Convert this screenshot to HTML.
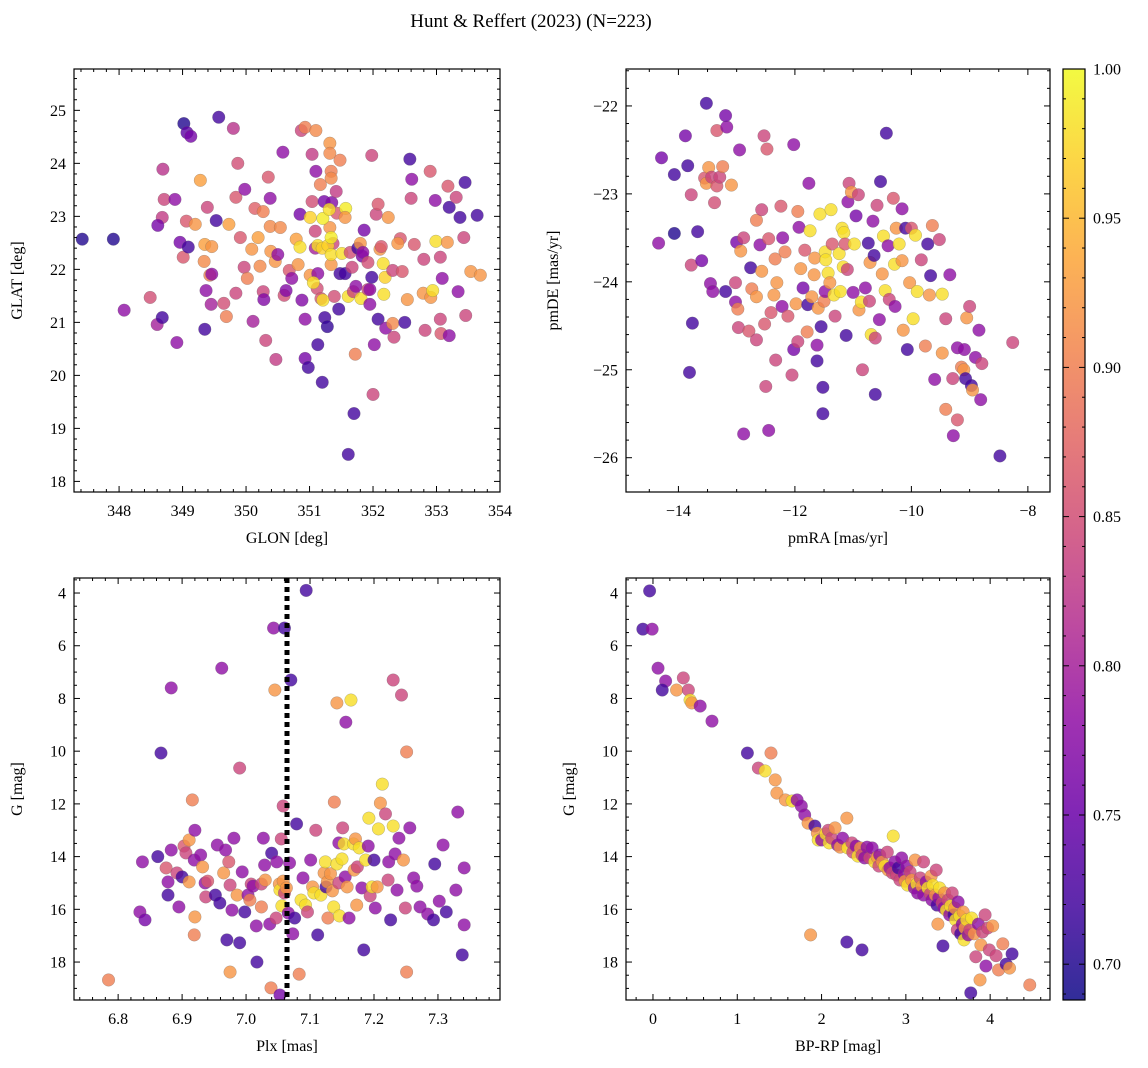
<!DOCTYPE html>
<html><head><meta charset="utf-8"><style>
html,body{margin:0;padding:0;background:#fff;}
svg{display:block;font-family:"Liberation Serif",serif;}
</style></head><body>
<svg id="fig" width="1148" height="1068" viewBox="0 0 1148 1068" xmlns="http://www.w3.org/2000/svg">
<text x="531" y="27" text-anchor="middle" font-size="19">Hunt &amp; Reffert (2023) (N=223)</text>
</svg>
<script>
// ---------- data ----------
const p1Lon=[347.42,347.91,348.08,348.6,348.68,348.49,348.69,348.71,348.68,348.61,348.88,348.91,348.96,349.01,349.06,349.02,349.07,349.13,349.09,349.2,349.28,349.34,349.39,349.35,349.46,349.37,349.35,349.43,349.45,349.46,349.53,349.57,349.65,349.69,349.73,349.8,349.84,349.84,349.87,349.91,349.97,349.98,350.02,350.09,350.11,350.14,350.19,350.22,350.27,350.27,350.28,350.31,350.35,350.38,350.38,350.39,350.46,350.5,350.47,350.54,350.6,350.63,350.58,350.68,350.72,350.79,350.82,350.85,350.87,350.93,350.88,350.93,350.93,350.98,351.01,351.04,351.04,351.09,351.09,351.1,351.13,351.1,351.12,351.13,351.17,351.23,351.18,351.24,351.28,351.2,351.32,351.32,351.32,351.34,351.34,351.34,351.35,351.42,351.43,351.37,351.39,351.46,351.48,351.48,350.85,351.01,351.06,351.13,351.2,351.21,351.21,351.29,351.31,351.34,351.34,351.51,351.57,351.56,351.56,351.61,351.67,351.64,351.72,351.69,351.76,351.73,351.83,351.8,351.81,351.84,351.86,351.92,351.92,351.98,351.95,351.95,351.98,352.05,352.02,352.0,352.08,352.08,352.11,352.13,352.17,352.16,352.19,352.2,352.24,352.31,352.31,352.33,352.43,352.39,352.46,352.54,352.5,352.58,352.61,352.6,352.65,352.8,352.9,352.79,352.82,352.91,352.94,352.99,353.06,352.98,353.09,353.06,353.07,353.17,353.18,353.2,353.31,353.37,353.43,353.46,353.54,353.64,353.69,353.45,351.7,351.61,353.2,353.34];
const p1Lat=[22.57,22.57,21.23,20.96,21.09,21.47,23.89,23.32,22.98,22.83,23.32,20.62,22.51,22.23,22.91,24.75,24.58,24.51,22.42,22.85,23.68,22.15,23.17,22.47,22.43,21.6,20.87,21.89,21.34,21.91,22.92,24.87,21.36,21.11,22.85,24.66,23.36,21.55,24.0,22.6,22.04,23.51,21.83,22.38,21.02,23.15,22.6,22.06,21.58,23.09,21.43,20.66,23.74,22.81,23.34,22.34,22.15,22.28,20.3,22.79,21.51,21.6,24.21,21.98,21.83,22.57,22.09,23.04,24.62,24.68,21.42,21.06,20.32,20.15,21.89,23.28,24.17,22.4,22.72,23.85,20.58,24.62,21.64,21.92,23.6,23.28,21.45,21.09,20.92,19.87,22.79,24.38,24.19,23.85,23.72,22.09,23.26,23.47,23.06,22.49,21.49,21.25,21.92,24.06,22.42,22.98,21.75,22.45,22.4,22.96,21.42,22.45,23.13,22.6,22.28,22.3,23.15,22.98,21.92,21.49,22.04,22.32,20.4,21.58,22.4,21.68,22.25,22.49,21.45,22.32,22.74,22.13,21.62,21.85,21.62,21.34,24.15,23.04,20.58,19.64,21.06,23.23,22.38,22.43,21.53,22.11,21.85,20.89,22.98,21.98,20.98,20.72,22.58,22.49,21.96,21.43,21.0,24.08,23.7,23.34,22.47,22.19,23.85,21.55,20.85,21.47,21.6,22.53,22.23,23.3,21.83,21.06,20.79,22.51,23.57,23.17,23.36,22.98,22.6,21.13,21.96,23.02,21.89,23.64,19.28,18.51,20.75,21.58];
const p1C=[0.70,0.70,0.78,0.80,0.72,0.85,0.82,0.84,0.83,0.76,0.78,0.78,0.76,0.86,0.86,0.70,0.74,0.76,0.72,0.92,0.93,0.91,0.84,0.93,0.92,0.78,0.72,0.90,0.80,0.78,0.72,0.72,0.85,0.90,0.93,0.82,0.86,0.84,0.85,0.86,0.84,0.78,0.90,0.92,0.80,0.87,0.93,0.91,0.84,0.90,0.77,0.84,0.86,0.91,0.78,0.92,0.92,0.78,0.83,0.91,0.85,0.77,0.78,0.86,0.78,0.93,0.92,0.76,0.84,0.90,0.77,0.78,0.76,0.72,0.92,0.85,0.83,0.80,0.84,0.78,0.72,0.91,0.85,0.78,0.90,0.76,0.86,0.72,0.71,0.72,0.92,0.92,0.91,0.90,0.91,0.92,0.77,0.83,0.86,0.84,0.85,0.72,0.72,0.90,0.98,0.97,0.98,0.98,0.97,0.99,0.98,0.97,0.98,0.99,0.98,0.98,0.99,0.92,0.72,0.98,0.84,0.85,0.90,0.84,0.72,0.78,0.76,0.92,0.98,0.78,0.76,0.85,0.84,0.72,0.78,0.78,0.84,0.84,0.78,0.84,0.72,0.86,0.92,0.86,0.98,0.98,0.97,0.78,0.92,0.84,0.91,0.84,0.86,0.92,0.86,0.92,0.72,0.72,0.78,0.84,0.86,0.84,0.86,0.92,0.84,0.92,0.98,0.98,0.84,0.78,0.78,0.84,0.86,0.92,0.86,0.72,0.84,0.72,0.84,0.84,0.92,0.72,0.92,0.72,0.72,0.72,0.78,0.78];

const p2Ra=[-14.29,-14.34,-14.07,-14.07,-13.88,-13.84,-13.78,-13.78,-13.76,-13.81,-13.67,-13.6,-13.52,-13.55,-13.52,-13.48,-13.45,-13.41,-13.43,-13.38,-13.34,-13.34,-13.29,-13.24,-13.17,-13.19,-13.19,-13.09,-13.0,-13.02,-13.02,-12.98,-12.97,-12.95,-12.93,-12.88,-12.88,-12.79,-12.76,-12.74,-12.66,-12.66,-12.66,-12.6,-12.57,-12.57,-12.53,-12.52,-12.5,-12.45,-12.48,-12.45,-12.41,-12.36,-12.34,-12.33,-12.31,-12.24,-12.21,-12.22,-12.17,-12.12,-12.05,-12.02,-12.02,-11.98,-11.95,-11.95,-11.93,-11.9,-11.86,-11.83,-11.79,-11.78,-11.76,-11.74,-11.71,-11.67,-11.66,-11.62,-11.62,-11.6,-11.57,-11.55,-11.52,-11.52,-11.5,-11.48,-11.48,-11.47,-11.43,-11.4,-11.38,-11.36,-11.33,-11.31,-11.24,-11.22,-11.19,-11.17,-11.16,-11.14,-11.12,-11.1,-11.09,-11.07,-11.03,-11.0,-10.98,-10.95,-10.91,-10.9,-10.86,-10.84,-10.79,-10.74,-10.72,-10.71,-10.69,-10.66,-10.62,-10.64,-10.62,-10.59,-10.55,-10.53,-10.5,-10.48,-10.45,-10.43,-10.4,-10.38,-10.31,-10.29,-10.26,-10.28,-10.21,-10.16,-10.16,-10.14,-10.1,-10.07,-10.03,-10.0,-9.97,-9.93,-9.9,-9.83,-9.76,-9.72,-9.69,-9.67,-9.64,-9.6,-9.52,-9.47,-9.47,-9.41,-9.41,-9.34,-9.29,-9.28,-9.21,-9.21,-9.14,-9.1,-9.09,-9.07,-9.05,-9.0,-8.97,-8.95,-8.9,-8.84,-8.81,-8.79,-8.48,-8.26];
const p2De=[-22.59,-23.56,-22.78,-23.45,-22.34,-22.68,-23.01,-23.81,-24.47,-25.03,-23.43,-23.76,-21.97,-22.82,-22.88,-22.7,-24.02,-24.11,-22.81,-23.1,-22.28,-22.91,-22.81,-22.69,-22.24,-22.11,-24.11,-22.9,-23.55,-24.01,-24.23,-24.31,-24.52,-22.5,-23.65,-23.5,-25.73,-24.56,-23.84,-24.08,-23.3,-24.17,-24.66,-23.58,-23.88,-23.18,-22.34,-24.48,-25.19,-25.69,-22.49,-23.51,-24.35,-24.15,-23.74,-24.89,-24.01,-23.14,-23.5,-24.28,-23.66,-24.39,-25.06,-22.44,-24.77,-24.25,-23.2,-24.68,-23.38,-23.85,-24.07,-23.64,-24.57,-24.26,-22.88,-23.42,-24.17,-23.92,-23.73,-24.72,-24.9,-24.3,-23.23,-24.51,-25.2,-25.5,-24.22,-24.11,-23.66,-23.75,-23.9,-24.01,-23.18,-23.57,-24.15,-24.39,-23.68,-24.11,-23.39,-23.83,-23.44,-23.57,-24.61,-23.86,-23.09,-22.88,-22.98,-24.12,-23.57,-23.25,-23.01,-24.32,-24.23,-25.0,-24.07,-23.56,-24.22,-23.78,-24.6,-23.31,-24.64,-23.7,-25.28,-23.13,-24.43,-22.86,-23.91,-23.48,-24.1,-22.31,-23.59,-24.2,-23.05,-23.8,-23.39,-24.28,-23.57,-23.17,-23.76,-24.55,-23.39,-24.77,-24.01,-23.39,-24.42,-23.47,-24.11,-23.75,-24.73,-23.57,-24.15,-23.93,-23.36,-25.11,-23.52,-24.81,-24.14,-24.42,-25.45,-23.92,-25.1,-25.75,-25.57,-24.75,-24.97,-25.0,-24.77,-25.1,-24.41,-24.28,-25.18,-25.23,-24.86,-24.55,-25.34,-24.93,-25.98,-24.69];
const p2C=[0.76,0.78,0.72,0.70,0.76,0.72,0.84,0.84,0.72,0.72,0.72,0.76,0.72,0.86,0.92,0.92,0.78,0.78,0.84,0.85,0.86,0.86,0.84,0.90,0.78,0.76,0.72,0.92,0.76,0.84,0.78,0.90,0.84,0.78,0.92,0.84,0.78,0.86,0.72,0.90,0.90,0.92,0.84,0.78,0.92,0.84,0.84,0.86,0.84,0.78,0.86,0.86,0.86,0.92,0.90,0.84,0.92,0.86,0.78,0.78,0.90,0.86,0.84,0.78,0.76,0.92,0.90,0.84,0.78,0.92,0.76,0.86,0.90,0.72,0.78,0.98,0.92,0.92,0.92,0.78,0.72,0.92,0.98,0.72,0.72,0.72,0.90,0.78,0.98,0.98,0.98,0.92,0.98,0.86,0.98,0.84,0.98,0.98,0.98,0.98,0.98,0.86,0.72,0.84,0.78,0.84,0.92,0.78,0.98,0.76,0.84,0.92,0.98,0.84,0.78,0.72,0.84,0.92,0.98,0.78,0.84,0.72,0.72,0.84,0.78,0.72,0.92,0.98,0.98,0.72,0.78,0.84,0.86,0.98,0.92,0.78,0.98,0.78,0.92,0.92,0.72,0.72,0.92,0.86,0.98,0.98,0.98,0.84,0.90,0.72,0.92,0.72,0.90,0.78,0.84,0.92,0.98,0.84,0.90,0.78,0.84,0.78,0.86,0.78,0.90,0.92,0.78,0.72,0.92,0.84,0.72,0.92,0.78,0.78,0.78,0.84,0.72,0.84];

const p3Plx=[6.785,6.834,6.842,6.838,6.862,6.867,6.883,6.875,6.878,6.878,6.883,6.892,6.895,6.9,6.903,6.906,6.911,6.911,6.916,6.919,6.92,6.92,6.919,6.929,6.932,6.936,6.937,6.94,6.952,6.955,6.959,6.962,6.965,6.968,6.97,6.973,6.975,6.975,6.978,6.981,6.986,6.99,6.99,6.994,6.998,7.003,7.006,7.008,7.011,7.016,7.017,7.024,7.024,7.027,7.029,7.03,7.037,7.039,7.04,7.043,7.045,7.047,7.048,7.053,7.052,7.053,7.055,7.056,7.058,7.06,7.058,7.06,7.063,7.066,7.068,7.07,7.073,7.076,7.079,7.083,7.086,7.089,7.093,7.096,7.101,7.104,7.106,7.109,7.112,7.117,7.122,7.124,7.125,7.127,7.128,7.132,7.135,7.137,7.138,7.142,7.142,7.145,7.145,7.146,7.15,7.151,7.153,7.155,7.156,7.158,7.161,7.164,7.168,7.169,7.171,7.173,7.174,7.177,7.181,7.184,7.187,7.191,7.192,7.194,7.197,7.2,7.202,7.205,7.207,7.21,7.213,7.218,7.222,7.223,7.226,7.23,7.23,7.233,7.236,7.239,7.243,7.246,7.249,7.251,7.251,7.256,7.262,7.267,7.272,7.284,7.293,7.295,7.302,7.308,7.313,7.328,7.331,7.341,7.341,7.338,7.094];
const p3G=[18.68,16.1,16.4,14.2,14.0,10.07,7.6,14.43,14.96,15.46,13.75,14.62,15.91,14.77,13.6,13.86,13.37,14.96,11.85,14.13,13.0,16.29,16.97,13.94,14.39,15.0,15.53,14.93,15.46,13.56,15.76,6.85,14.62,13.75,17.16,14.2,15.08,18.38,16.03,13.3,15.46,10.64,17.27,14.58,16.1,15.46,15.65,15.04,15.12,16.63,18.0,15.04,15.91,13.3,14.32,14.89,16.56,18.98,13.87,5.33,7.68,16.33,14.2,19.25,15.04,15.27,13.33,15.87,14.93,5.33,12.08,15.38,15.19,16.14,14.24,7.3,16.93,16.33,12.76,18.46,15.65,14.81,15.84,16.1,14.13,15.15,15.38,13.0,16.97,15.46,14.62,14.2,15.15,14.96,16.33,14.65,15.3,15.91,11.93,14.28,8.17,13.48,15.0,16.25,14.09,12.91,13.52,14.77,8.9,15.15,16.33,8.06,13.52,14.51,13.33,15.84,14.39,13.67,15.19,17.54,14.13,13.6,12.54,15.49,15.15,14.13,15.95,15.15,12.95,11.97,11.25,12.38,14.89,14.2,16.4,7.3,12.84,13.9,15.27,13.3,7.87,14.13,15.95,10.03,18.38,12.91,14.81,15.12,15.91,16.18,16.4,14.28,15.69,13.56,16.1,15.27,12.31,16.59,14.43,17.73,3.9];
const p3C=[0.90,0.78,0.76,0.78,0.72,0.72,0.78,0.86,0.78,0.72,0.78,0.84,0.78,0.72,0.86,0.84,0.92,0.92,0.90,0.78,0.78,0.92,0.90,0.78,0.92,0.78,0.84,0.86,0.72,0.78,0.72,0.78,0.92,0.78,0.72,0.86,0.84,0.92,0.78,0.78,0.92,0.84,0.72,0.78,0.72,0.78,0.90,0.84,0.78,0.78,0.72,0.84,0.90,0.78,0.78,0.92,0.78,0.90,0.72,0.78,0.92,0.84,0.78,0.76,0.92,0.98,0.84,0.98,0.92,0.72,0.84,0.84,0.92,0.78,0.78,0.72,0.78,0.72,0.72,0.90,0.98,0.78,0.98,0.84,0.78,0.92,0.98,0.84,0.72,0.98,0.92,0.98,0.72,0.92,0.90,0.92,0.92,0.98,0.90,0.98,0.92,0.78,0.84,0.98,0.98,0.84,0.98,0.78,0.78,0.92,0.78,0.98,0.98,0.92,0.92,0.92,0.84,0.98,0.78,0.72,0.98,0.78,0.98,0.84,0.98,0.72,0.78,0.92,0.98,0.92,0.98,0.84,0.84,0.78,0.72,0.84,0.98,0.78,0.78,0.78,0.84,0.92,0.84,0.90,0.90,0.78,0.78,0.78,0.78,0.78,0.72,0.72,0.78,0.78,0.72,0.78,0.78,0.78,0.78,0.72,0.72];

const p4Col=[-0.04,-0.12,-0.01,0.06,0.15,0.11,0.28,0.36,0.42,0.44,0.46,0.56,0.7,1.12,1.4,1.25,1.33,1.45,1.47,1.57,1.65,1.71,1.76,1.8,1.84,1.92,1.95,1.96,2.0,2.05,2.08,2.09,2.12,2.16,2.19,2.22,2.25,2.3,2.31,2.36,2.37,2.41,2.43,2.46,2.48,2.51,2.54,2.57,2.6,2.63,2.66,2.68,2.69,2.72,2.75,2.78,2.79,2.81,2.84,2.85,2.87,2.89,2.91,2.93,2.95,2.98,2.99,3.01,3.02,3.05,3.07,3.1,3.11,3.13,3.14,3.17,3.19,3.21,3.21,3.24,3.26,3.29,3.3,3.31,3.32,3.35,3.36,3.37,3.38,3.39,3.4,3.43,3.44,3.45,3.46,3.48,3.5,3.52,3.53,3.55,3.57,3.58,3.59,3.61,3.62,3.64,3.65,3.67,3.68,3.69,3.7,3.72,3.74,3.76,3.77,3.78,3.81,3.83,3.86,3.88,3.89,3.91,3.94,3.95,3.97,3.99,4.03,4.07,4.1,4.19,4.26,4.23,4.47,1.87,2.3,2.48,4.15];
const p4G=[3.92,5.37,5.37,6.85,7.34,7.68,7.68,7.22,7.68,8.06,8.17,8.29,8.86,10.07,10.07,10.64,10.75,11.09,11.59,11.85,11.89,11.85,12.08,12.42,12.73,12.84,13.11,13.37,13.37,13.14,13.0,13.48,13.3,12.91,13.56,13.64,13.3,12.54,13.67,13.48,13.83,13.6,13.98,13.67,13.94,14.05,13.64,14.05,13.67,14.2,14.02,14.36,13.94,14.2,14.36,13.83,14.51,14.43,14.62,13.22,14.2,14.7,14.43,14.89,14.05,14.66,14.93,14.36,15.08,14.58,14.89,15.19,14.13,15.04,15.38,14.81,15.12,14.2,15.46,14.96,15.19,15.42,14.74,15.65,15.08,15.46,14.51,15.84,16.56,15.57,15.19,15.76,17.39,15.95,15.38,16.03,15.65,16.21,15.87,15.38,16.21,15.95,16.4,16.78,15.72,16.25,16.93,16.56,16.1,17.16,16.71,16.4,16.97,16.78,19.17,16.33,16.93,17.8,16.56,18.68,17.35,16.86,16.21,18.15,16.71,17.54,16.63,17.76,18.3,18.08,17.69,18.23,18.87,16.97,17.24,17.54,17.31];
const p4C=[0.72,0.72,0.78,0.78,0.78,0.72,0.92,0.84,0.84,0.98,0.92,0.78,0.78,0.72,0.90,0.84,0.98,0.92,0.92,0.92,0.98,0.78,0.78,0.78,0.92,0.72,0.92,0.98,0.78,0.98,0.84,0.98,0.84,0.92,0.78,0.92,0.78,0.92,0.98,0.84,0.84,0.78,0.98,0.92,0.84,0.78,0.78,0.84,0.78,0.98,0.92,0.84,0.78,0.92,0.98,0.84,0.92,0.78,0.84,0.98,0.78,0.84,0.72,0.84,0.78,0.78,0.92,0.78,0.98,0.84,0.92,0.78,0.92,0.98,0.78,0.84,0.92,0.84,0.78,0.78,0.98,0.84,0.92,0.78,0.98,0.92,0.84,0.72,0.92,0.78,0.98,0.84,0.72,0.78,0.92,0.98,0.84,0.78,0.98,0.84,0.72,0.92,0.98,0.84,0.78,0.98,0.72,0.78,0.92,0.98,0.92,0.98,0.78,0.84,0.72,0.98,0.92,0.84,0.78,0.92,0.92,0.84,0.84,0.78,0.84,0.84,0.92,0.84,0.90,0.72,0.72,0.92,0.90,0.92,0.72,0.72,0.90];

const cbTicks=[0.70,0.75,0.80,0.85,0.90,0.95,1.00];
const plxCut=[7.064];

// ---------- rendering ----------
const NS='http://www.w3.org/2000/svg';
const svg=document.getElementById('fig');
function mk(tag,attrs,parent){const e=document.createElementNS(NS,tag);for(const k in attrs)e.setAttribute(k,attrs[k]);(parent||svg).appendChild(e);return e;}
const VMIN=0.688,VMAX=1.0;
const plasma=[[13,8,135],[65,4,157],[106,0,168],[143,13,164],[177,42,144],[204,71,120],[225,100,98],[242,132,75],[252,166,54],[252,206,37],[240,249,33]];
function cmap(v){let t=(v-VMIN)/(VMAX-VMIN);t=Math.max(0,Math.min(1,t))*10;const i=Math.min(9,Math.floor(t)),f=t-i;const a=plasma[i],b=plasma[i+1];return 'rgb('+[0,1,2].map(k=>Math.round(a[k]+(b[k]-a[k])*f)).join(',')+')';}
function fmt(v,d){const s=v.toFixed(d);return v<0?'\u2212'+s.slice(1):s;}

function panel(cfg){
  const g=mk('g',{});
  
  
  const {L,R,T,B}=cfg;
  const sx=v=>L+(v-cfg.x0)/(cfg.x1-cfg.x0)*(R-L);
  const sy=cfg.yinv?(v=>T+(v-cfg.y0)/(cfg.y1-cfg.y0)*(B-T)):(v=>B-(v-cfg.y0)/(cfg.y1-cfg.y0)*(B-T));
  const pg=mk('g',{},g);
  
  
  const clip=mk('clipPath',{id:'c'+cfg.name},g);mk('rect',{x:L,y:T,width:R-L,height:B-T},clip);
  pg.setAttribute('clip-path','url(#c'+cfg.name+')');
  for(let i=0;i<cfg.xs.length;i++){
    const c=mk('circle',{cx:sx(cfg.xs[i]),cy:sy(cfg.ys[i]),r:6.3,fill:cmap(cfg.cs[i]),'fill-opacity':0.8,stroke:'#666','stroke-width':0.4,'stroke-opacity':0.6},pg);
    
    
  }
  if(cfg.vline){for(const v of cfg.vline){const l=mk('line',{x1:sx(v),x2:sx(v),y1:T,y2:B,stroke:'#000','stroke-width':5,'stroke-dasharray':'5,4'},g);
    
    }}
  const fr=mk('rect',{x:L,y:T,width:R-L,height:B-T,fill:'none',stroke:'#000','stroke-width':1.2},g);
  
  
  const tk=mk('g',{stroke:'#000','stroke-width':1},g);
  const e=1e-6;
  for(let v=Math.ceil(cfg.x0/cfg.xmin-e)*cfg.xmin;v<=cfg.x1+e;v+=cfg.xmin){const X=sx(v);if(X<L-0.5||X>R+0.5)continue;const maj=Math.abs(v/cfg.xmaj-Math.round(v/cfg.xmaj))<1e-4;const len=maj?6:3;
    mk('line',{x1:X,x2:X,y1:B,y2:B-len},tk);mk('line',{x1:X,x2:X,y1:T,y2:T+len},tk);
    if(maj){const t=mk('text',{x:X,y:B+24,'text-anchor':'middle','font-size':16,stroke:'none'},g);t.textContent=fmt(v,cfg.xd);
      }}
  for(let v=Math.ceil(cfg.y0/cfg.ymin-e)*cfg.ymin;v<=cfg.y1+e;v+=cfg.ymin){const Y=sy(v);if(Y<T-0.5||Y>B+0.5)continue;const maj=Math.abs(v/cfg.ymaj-Math.round(v/cfg.ymaj))<1e-4;const len=maj?6:3;
    mk('line',{x1:L,x2:L+len,y1:Y,y2:Y},tk);mk('line',{x1:R,x2:R-len,y1:Y,y2:Y},tk);
    if(maj){const t=mk('text',{x:L-8,y:Y+5.5,'text-anchor':'end','font-size':16,stroke:'none'},g);t.textContent=fmt(v,cfg.yd);
      }}
  const xl=mk('text',{x:(L+R)/2,y:B+51,'text-anchor':'middle','font-size':16},g);xl.textContent=cfg.xlabel;
  
  const yl=mk('text',{x:cfg.ylx,y:(T+B)/2,'text-anchor':'middle','font-size':16,transform:'rotate(-90 '+cfg.ylx+' '+(T+B)/2+')'},g);yl.textContent=cfg.ylabel;
  
}

panel({name:'sky-panel',L:74,R:500,T:69,B:492,x0:347.29,x1:354.0,y0:17.8,y1:25.78,xmaj:1,xmin:0.2,ymaj:1,ymin:0.2,xd:0,yd:0,xs:p1Lon,ys:p1Lat,cs:p1C,xlabel:'GLON [deg]',ylabel:'GLAT [deg]',ylx:22});
panel({name:'pm-panel',L:626,R:1050,T:69,B:492,x0:-14.9,x1:-7.62,y0:-26.39,y1:-21.58,xmaj:2,xmin:0.5,ymaj:1,ymin:0.2,xd:0,yd:0,xs:p2Ra,ys:p2De,cs:p2C,xlabel:'pmRA [mas/yr]',ylabel:'pmDE [mas/yr]',ylx:558});
panel({name:'plx-panel',L:74,R:500,T:578,B:1000,x0:6.731,x1:7.397,y0:3.43,y1:19.44,yinv:true,xmaj:0.1,xmin:0.02,ymaj:2,ymin:0.5,xd:1,yd:0,xs:p3Plx,ys:p3G,cs:p3C,vline:plxCut,xlabel:'Plx [mas]',ylabel:'G [mag]',ylx:22});
panel({name:'cmd-panel',L:626,R:1050,T:578,B:1000,x0:-0.32,x1:4.71,y0:3.43,y1:19.44,yinv:true,xmaj:1,xmin:0.2,ymaj:2,ymin:0.5,xd:0,yd:0,xs:p4Col,ys:p4G,cs:p4C,xlabel:'BP-RP [mag]',ylabel:'G [mag]',ylx:574});

// colorbar
(function(){
  const L=1063,R=1085,T=69,B=1000;
  const g=mk('g',{});
  
  
  const defs=mk('defs',{},g);
  const lg=mk('linearGradient',{id:'cbg',x1:0,y1:1,x2:0,y2:0},defs);
  for(let i=0;i<=20;i++){const v=VMIN+(VMAX-VMIN)*i/20;mk('stop',{offset:(i/20),'stop-color':cmap(v),'stop-opacity':0.85},lg);}
  mk('rect',{x:L,y:T,width:R-L,height:B-T,fill:'url(#cbg)',stroke:'#000','stroke-width':1.2},g);
  const sy=v=>B-(v-VMIN)/(VMAX-VMIN)*(B-T);
  for(let v=0.69;v<=1.0001;v+=0.01){const Y=sy(v);const maj=Math.abs(v*20-Math.round(v*20))<1e-4;const len=maj?6:3;
    mk('line',{x1:R,x2:R-len,y1:Y,y2:Y,stroke:'#000','stroke-width':1},g);mk('line',{x1:L,x2:L+len,y1:Y,y2:Y,stroke:'#000','stroke-width':1},g);}
  for(const v of cbTicks){const t=mk('text',{x:R+8,y:sy(v)+5.5,'font-size':16},g);t.textContent=v.toFixed(2);
    }
})();
</script>
</body></html>
